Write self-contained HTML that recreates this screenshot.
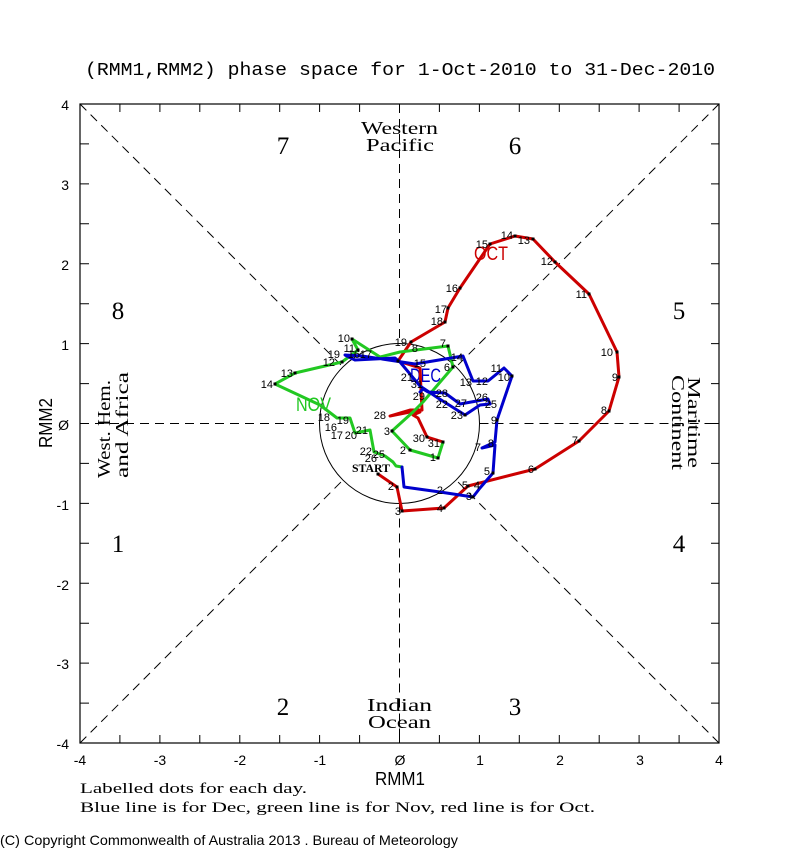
<!DOCTYPE html>
<html><head><meta charset="utf-8"><style>
html,body{margin:0;padding:0;background:#fff;}
svg{display:block;}
.lab{font-family:"Liberation Sans",sans-serif;font-size:11px;fill:#000;text-anchor:end;}
</style></head><body>
<svg width="800" height="850" viewBox="0 0 800 850" xmlns="http://www.w3.org/2000/svg">
<rect width="800" height="850" fill="#fff"/>
<!-- title -->
<text x="85" y="75" font-family="Liberation Mono, monospace" font-size="18" textLength="630" lengthAdjust="spacingAndGlyphs" fill="#000">(RMM1,RMM2) phase space for  1-Oct-2010 to 31-Dec-2010</text>

<!-- dashed lines -->
<g stroke="#000" stroke-width="1" stroke-dasharray="9,6" fill="none">
<line x1="399.5" y1="104" x2="399.5" y2="343.5"/>
<line x1="399.5" y1="503.5" x2="399.5" y2="743"/>
<line x1="80" y1="423.5" x2="319.5" y2="423.5"/>
<line x1="479.5" y1="423.5" x2="719" y2="423.5"/>
<line x1="80" y1="104" x2="342.9" y2="366.9"/>
<line x1="719" y1="104" x2="456.1" y2="366.9"/>
<line x1="80" y1="743" x2="342.9" y2="480.1"/>
<line x1="719" y1="743" x2="456.1" y2="480.1"/>
</g>
<circle cx="399.5" cy="423.5" r="80" fill="none" stroke="#000" stroke-width="1"/>

<!-- frame -->
<rect x="80" y="104" width="639" height="639" fill="none" stroke="#000" stroke-width="1.2"/>
<g stroke="#000" stroke-width="1">
<path d="M80,104v8M119.9,104v8M159.9,104v8M199.8,104v8M239.8,104v8M279.7,104v8M319.6,104v8M359.6,104v8M399.5,104v8M439.4,104v8M479.4,104v8M519.3,104v8M559.3,104v8M599.2,104v8M639.1,104v8M679.1,104v8"/>
<path d="M80,743v-8M119.9,743v-8M159.9,743v-8M199.8,743v-8M239.8,743v-8M279.7,743v-8M319.6,743v-8M359.6,743v-8M399.5,743v-8M439.4,743v-8M479.4,743v-8M519.3,743v-8M559.3,743v-8M599.2,743v-8M639.1,743v-8M679.1,743v-8"/>
<path d="M80,143.9h9M80,183.9h9M80,223.8h9M80,263.8h9M80,303.7h9M80,343.6h9M80,383.6h9M80,423.5h9M80,463.4h9M80,503.4h9M80,543.3h9M80,583.3h9M80,623.2h9M80,663.1h9M80,703.1h9"/>
<path d="M719,143.9h-8M719,183.9h-8M719,223.8h-8M719,263.8h-8M719,303.7h-8M719,343.6h-8M719,383.6h-8M719,423.5h-8M719,463.4h-8M719,503.4h-8M719,543.3h-8M719,583.3h-8M719,623.2h-8M719,663.1h-8M719,703.1h-8"/>
</g>

<!-- axis tick labels -->
<g font-family="Liberation Sans, sans-serif" font-size="14" fill="#000" text-anchor="end">
<text x="69" y="110">4</text>
<text x="69" y="190">3</text>
<text x="69" y="270">2</text>
<text x="69" y="350">1</text>
<text x="69" y="430">Ø</text>
<text x="69" y="510">-1</text>
<text x="69" y="590">-2</text>
<text x="69" y="669">-3</text>
<text x="69" y="749">-4</text>
</g>
<g font-family="Liberation Sans, sans-serif" font-size="14" fill="#000" text-anchor="middle">
<text x="80" y="765">-4</text>
<text x="160" y="765">-3</text>
<text x="240" y="765">-2</text>
<text x="320" y="765">-1</text>
<text x="400" y="765">Ø</text>
<text x="480" y="765">1</text>
<text x="560" y="765">2</text>
<text x="640" y="765">3</text>
<text x="719" y="765">4</text>
</g>
<text x="375" y="785" font-family="Liberation Sans, sans-serif" font-size="18" textLength="50" lengthAdjust="spacingAndGlyphs" fill="#000">RMM1</text>
<text transform="translate(52,448) rotate(-90)" font-family="Liberation Sans, sans-serif" font-size="18" textLength="50" lengthAdjust="spacingAndGlyphs" fill="#000">RMM2</text>

<!-- phase numbers & regions -->
<g font-family="Liberation Serif, serif" font-size="25" fill="#000" text-anchor="middle">
<text x="283" y="154">7</text>
<text x="515" y="154">6</text>
<text x="118" y="319">8</text>
<text x="679" y="319">5</text>
<text x="118" y="552">1</text>
<text x="679" y="552">4</text>
<text x="283" y="715">2</text>
<text x="515" y="715">3</text>
</g>
<g font-family="Liberation Serif, serif" font-size="18" fill="#000">
<text x="361" y="134" textLength="77" lengthAdjust="spacingAndGlyphs">Western</text>
<text x="366" y="151" textLength="68" lengthAdjust="spacingAndGlyphs">Pacific</text>
<text x="367" y="711" textLength="65" lengthAdjust="spacingAndGlyphs">Indian</text>
<text x="368" y="728" textLength="63" lengthAdjust="spacingAndGlyphs">Ocean</text>
<text transform="translate(110,478) rotate(-90)" textLength="98" lengthAdjust="spacingAndGlyphs">West. Hem.</text>
<text transform="translate(128,478) rotate(-90)" textLength="106" lengthAdjust="spacingAndGlyphs">and Africa</text>
<text transform="translate(688,377) rotate(90)" textLength="91" lengthAdjust="spacingAndGlyphs">Maritime</text>
<text transform="translate(672,375) rotate(90)" textLength="95" lengthAdjust="spacingAndGlyphs">Continent</text>
</g>

<!-- month labels -->
<g font-family="Liberation Sans, sans-serif" font-size="19">
<text x="474" y="260" fill="#cc0000" textLength="34" lengthAdjust="spacingAndGlyphs">OCT</text>
<text x="296" y="411" fill="#22c822" textLength="35" lengthAdjust="spacingAndGlyphs">NOV</text>
<text x="410" y="382" fill="#0000cc" textLength="31" lengthAdjust="spacingAndGlyphs">DEC</text>
</g>

<!-- trajectories -->
<g fill="none" stroke-width="3" stroke-linejoin="round" stroke-linecap="round">
<polyline stroke="#cc0000" points="378,474 397,487 402,511 444,508 468,486 535,469 579,441 609,411 619,377 617,352 589,294 555,262 533,239 515,236 490,244 460,288 448,308 445,322 411,342 398,361 420,368 421,390 422,410 410,410 390,416 410,412 420,412 413,415 418,418 427,437 443,442"/>
<polyline stroke="#22c822" points="443,442 438,458 410,450 392,431 413,412 423,402 453,367 448,346 400,352 380,357 352,339 358,350 342,362 295,373 275,384 320,405 337,418 350,418 355,433 370,430 374,452 385,456 393,462 396,466 402,467"/>
<polyline stroke="#0000cc" points="402,467 404,487 440,492 473,497 480,488 493,473 495,445 482,448 495,442 497,420 512,376 504,368 488,381 473,381 463,356 415,364 362,356 345,355 355,360 395,358 400,362 420,386 438,398 465,415 480,405 490,404 488,399 460,404 445,393 428,392 423,389 420,392"/>
</g>
<!-- dots -->
<g fill="#000">
<rect x="376.5" y="472.5" width="3" height="3"/><rect x="395.5" y="485.5" width="3" height="3"/><rect x="400.5" y="509.5" width="3" height="3"/><rect x="442.5" y="506.5" width="3" height="3"/><rect x="466.5" y="484.5" width="3" height="3"/><rect x="533.5" y="467.5" width="3" height="3"/><rect x="577.5" y="439.5" width="3" height="3"/><rect x="607.5" y="409.5" width="3" height="3"/><rect x="617.5" y="375.5" width="3" height="3"/><rect x="615.5" y="350.5" width="3" height="3"/><rect x="587.5" y="292.5" width="3" height="3"/><rect x="553.5" y="260.5" width="3" height="3"/><rect x="531.5" y="237.5" width="3" height="3"/><rect x="513.5" y="234.5" width="3" height="3"/><rect x="488.5" y="242.5" width="3" height="3"/><rect x="458.5" y="286.5" width="3" height="3"/><rect x="446.5" y="306.5" width="3" height="3"/><rect x="443.5" y="320.5" width="3" height="3"/><rect x="409.5" y="340.5" width="3" height="3"/><rect x="396.5" y="359.5" width="3" height="3"/><rect x="425.5" y="435.5" width="3" height="3"/><rect x="441.5" y="440.5" width="3" height="3"/>
<rect x="436.5" y="456.5" width="3" height="3"/><rect x="408.5" y="448.5" width="3" height="3"/><rect x="390.5" y="429.5" width="3" height="3"/><rect x="451.5" y="365.5" width="3" height="3"/><rect x="446.5" y="344.5" width="3" height="3"/><rect x="350.5" y="337.5" width="3" height="3"/><rect x="356.5" y="348.5" width="3" height="3"/><rect x="340.5" y="360.5" width="3" height="3"/><rect x="293.5" y="371.5" width="3" height="3"/><rect x="273.5" y="382.5" width="3" height="3"/>
<rect x="471.5" y="495.5" width="3" height="3"/><rect x="491.5" y="471.5" width="3" height="3"/><rect x="495.5" y="418.5" width="3" height="3"/><rect x="510.5" y="374.5" width="3" height="3"/><rect x="463.5" y="413.5" width="3" height="3"/>
</g>

<!-- day labels -->
<g class="lab">
<!-- Oct -->
<text x="394" y="490" class="lab">2</text>
<text x="401" y="515" class="lab">3</text>
<text x="443" y="512" class="lab">4</text>
<text x="468" y="489" class="lab">5</text>
<text x="534" y="473" class="lab">6</text>
<text x="578" y="444" class="lab">7</text>
<text x="607" y="414" class="lab">8</text>
<text x="618" y="381" class="lab">9</text>
<text x="613" y="356" class="lab">10</text>
<text x="587" y="298" class="lab">11</text>
<text x="553" y="265" class="lab">12</text>
<text x="530" y="244" class="lab">13</text>
<text x="513" y="239" class="lab">14</text>
<text x="488" y="248" class="lab">15</text>
<text x="458" y="292" class="lab">16</text>
<text x="447" y="313" class="lab">17</text>
<text x="443" y="325" class="lab">18</text>
<text x="407" y="346" class="lab">19</text>
<text x="413" y="381" class="lab">21</text>
<text x="386" y="419" class="lab">28</text>
<text x="425" y="442" class="lab">30</text>
<text x="440" y="447" class="lab">31</text>
<!-- Nov -->
<text x="436" y="461" class="lab">1</text>
<text x="406" y="454" class="lab">2</text>
<text x="390" y="435" class="lab">3</text>
<text x="450" y="371" class="lab">6</text>
<text x="446" y="347" class="lab">7</text>
<text x="418" y="352" class="lab">8</text>
<text x="350" y="342" class="lab">10</text>
<text x="355" y="352" class="lab">11</text>
<text x="335" y="366" class="lab">12</text>
<text x="293" y="377" class="lab">13</text>
<text x="273" y="388" class="lab">14</text>
<text x="337" y="431" class="lab">16</text>
<text x="343" y="439" class="lab">17</text>
<text x="330" y="421" class="lab">18</text>
<text x="349" y="424" class="lab">19</text>
<text x="357" y="439" class="lab">20</text>
<text x="368" y="434" class="lab">21</text>
<text x="372" y="455" class="lab">22</text>
<text x="385" y="458" class="lab">25</text>
<text x="377" y="462" class="lab">26</text>
<!-- Dec -->
<text x="443" y="494" class="lab">2</text>
<text x="472" y="500" class="lab">3</text>
<text x="480" y="489" class="lab">4</text>
<text x="490" y="475" class="lab">5</text>
<text x="481" y="451" class="lab">7</text>
<text x="494" y="447" class="lab">8</text>
<text x="497" y="424" class="lab">9</text>
<text x="510" y="381" class="lab">10</text>
<text x="502" y="372" class="lab">11</text>
<text x="488" y="385" class="lab">12</text>
<text x="472" y="386" class="lab">13</text>
<text x="463" y="361" class="lab">14</text>
<text x="426" y="367" class="lab">15</text>
<text x="360" y="358" class="lab">16</text>
<text x="372" y="358" class="lab">17</text>
<text x="340" y="358" class="lab">19</text>
<text x="448" y="408" class="lab">22</text>
<text x="463" y="419" class="lab">23</text>
<text x="497" y="408" class="lab">25</text>
<text x="467" y="407" class="lab">27</text>
<text x="488" y="401" class="lab">26</text>
<text x="448" y="397" class="lab">28</text>
<text x="425" y="400" class="lab">29</text>
<text x="423" y="388" class="lab">31</text>
</g>
<text x="352" y="472" font-family="Liberation Serif, serif" font-size="12" font-weight="bold" textLength="38" lengthAdjust="spacingAndGlyphs" fill="#000">START</text>

<!-- notes -->
<g font-family="Liberation Serif, serif" font-size="15" fill="#000">
<text x="80" y="793" textLength="227" lengthAdjust="spacingAndGlyphs">Labelled dots for each day.</text>
<text x="80" y="812" textLength="515" lengthAdjust="spacingAndGlyphs">Blue line is for Dec, green line is for Nov, red line is for Oct.</text>
</g>
<text x="0" y="845" font-family="Liberation Sans, sans-serif" font-size="14" textLength="458" lengthAdjust="spacingAndGlyphs" fill="#000">(C) Copyright Commonwealth of Australia 2013 . Bureau of Meteorology</text>
</svg>
</body></html>
